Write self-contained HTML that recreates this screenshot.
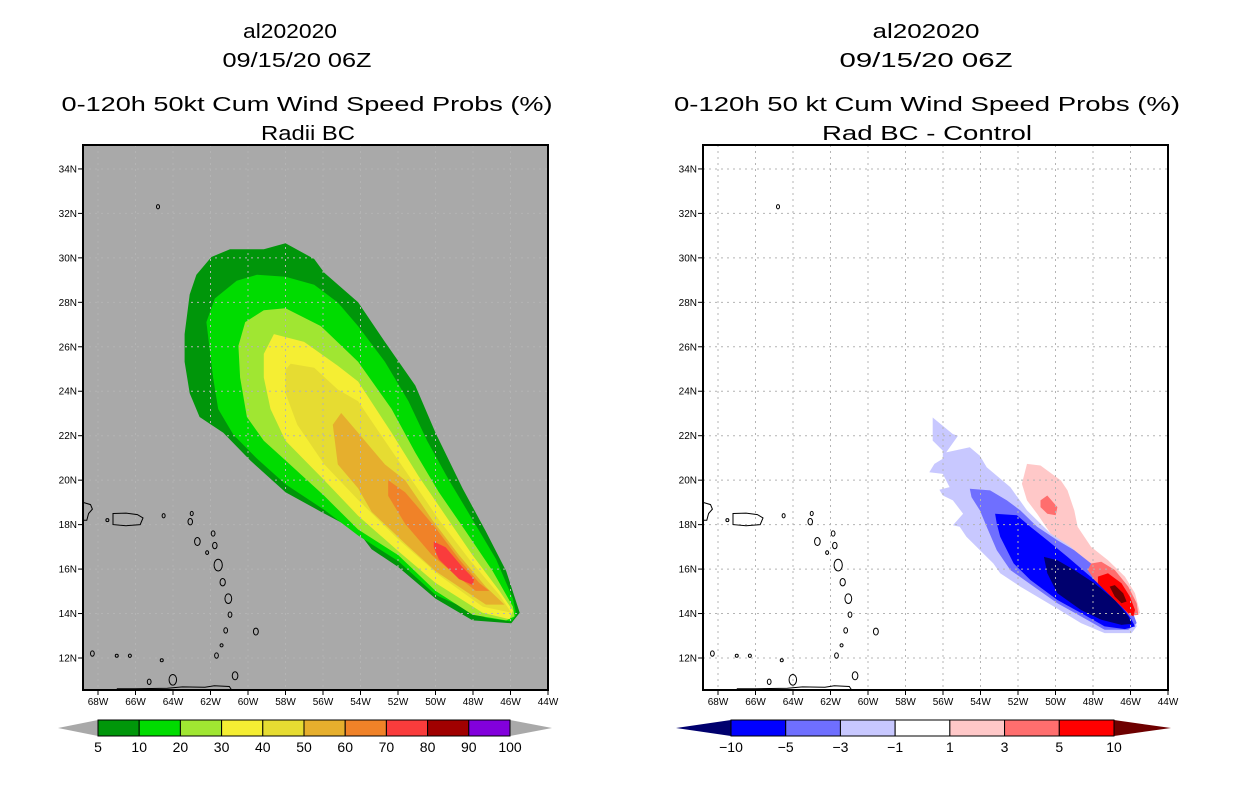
<!DOCTYPE html>
<html><head><meta charset="utf-8"><style>
body{margin:0;background:#fff}
svg{display:block}
text{font-family:"Liberation Sans",sans-serif;fill:#000}
</style></head><body>
<svg id="c" width="1236" height="800" viewBox="0 0 1236 800"></svg>
<script>
// ---- DATA (lon in degrees W, lat in degrees N) ----
const probLevels = [5,10,20,30,40,50,60,70,80,90,100];
const probColors = ["#00960a","#00dc00","#a0e632","#f5ee33","#e6dc32","#e6af2d","#f08228","#fa3c3c","#a00000","#8200dc"];
const prob5 = [[58.0,30.66],[56.47,29.95],[55.93,29.33],[54.13,28.0],[52.70,26.22],[51.08,24.26],[50.0,22.13],[48.56,19.64],[47.31,17.69],[46.23,15.91],[45.51,14.04],[45.96,13.56],[48.02,13.69],[50.0,14.67],[51.98,16.09],[53.41,16.89],[54.13,17.69],[56.11,18.58],[58.0,19.46],[59.88,20.89],[61.32,22.13],[62.58,22.84],[63.11,23.91],[63.38,25.33],[63.38,26.57],[63.11,28.35],[62.75,29.24],[61.95,30.04],[60.96,30.39],[59.16,30.39]];
const prob10 = [[58.0,29.15],[56.47,28.79],[55.21,27.99],[54.13,26.93],[52.70,25.33],[51.44,23.55],[50.45,21.77],[49.28,20.0],[48.02,18.22],[46.77,16.44],[45.87,14.67],[45.69,13.95],[45.96,13.64],[47.31,13.81],[50.0,14.84],[51.98,16.35],[54.13,17.51],[55.93,18.66],[58.0,19.82],[59.52,20.97],[60.78,22.04],[61.59,23.20],[61.86,24.62],[62.22,27.11],[61.77,28.17],[60.60,28.97],[59.52,29.24]];
const prob20 = [[58.0,27.73],[56.11,26.93],[54.13,25.33],[52.34,23.20],[51.08,21.24],[49.82,19.46],[48.38,17.69],[46.95,15.91],[45.87,14.31],[45.78,13.87],[46.23,13.69],[48.02,13.95],[50.0,15.02],[51.98,16.62],[54.13,17.78],[55.93,19.29],[58.0,20.89],[59.16,21.77],[60.06,22.84],[60.42,24.62],[60.51,26.04],[60.15,27.11],[59.16,27.64]];
const prob30 = [[58.62,26.57],[57.01,26.22],[55.21,25.15],[54.13,24.44],[52.34,22.13],[50.90,20.18],[49.46,18.40],[48.02,16.62],[46.59,15.02],[45.87,14.13],[46.05,13.74],[47.49,14.04],[50.0,15.38],[51.98,16.80],[54.13,18.40],[55.93,20.0],[58.0,21.77],[58.80,23.20],[59.16,24.62],[59.16,25.68]];
const prob40 = [[57.73,25.24],[56.47,25.06],[55.21,24.08],[54.13,23.55],[52.70,21.77],[51.26,20.0],[49.82,18.22],[48.2,16.44],[46.59,14.84],[45.96,14.04],[47.49,14.31],[49.82,15.73],[51.98,17.33],[54.13,19.11],[55.93,20.71],[57.37,22.49],[58.0,23.91],[58.0,24.97]];
const prob50 = [[55.03,23.02],[54.13,22.13],[52.70,20.71],[51.62,20.0],[50.18,18.22],[48.74,16.62],[47.31,15.20],[46.32,14.40],[47.31,14.40],[48.74,15.20],[50.0,15.91],[51.62,17.15],[53.41,18.58],[54.13,19.64],[55.21,20.71],[55.48,22.49]];
const prob60 = [[52.52,20.0],[51.62,19.46],[50.0,17.86],[48.74,16.44],[47.67,15.38],[47.13,15.02],[47.85,15.02],[48.92,15.73],[50.18,16.62],[51.62,18.04],[52.52,19.29]];
const prob70 = [[50.09,17.24],[49.46,16.98],[48.56,16.09],[47.94,15.55],[48.02,15.29],[48.74,15.55],[49.82,16.44],[50.09,16.98]];

const diffLevels = [-10,-5,-3,-1,1,3,5,10];
const diffColors = ["#00006e","#0000ff","#6f6fff","#c8c8ff","#ffffff","#ffc8c8","#ff6e6e","#ff0000","#6e0000"];
const diffPos1 = [[51.52,20.73],[50.80,20.66],[49.72,19.99],[49.36,19.54],[49.0,18.64],[48.82,17.90],[48.10,17.0],[47.20,16.40],[46.30,15.66],[45.76,14.91],[45.49,14.01],[45.94,13.94],[46.48,14.31],[47.20,14.61],[47.92,15.21],[48.46,15.81],[49.0,16.55],[49.72,17.0],[50.26,17.60],[50.98,18.49],[51.52,19.09],[51.79,19.84]];
const diffPos3a = [[50.80,19.09],[50.44,19.31],[49.90,18.79],[49.99,18.42],[50.44,18.49],[50.80,18.79]];
const diffPos3b = [[48.10,16.25],[47.56,16.33],[46.84,15.96],[46.12,15.21],[45.67,14.46],[45.58,13.94],[46.03,13.90],[46.48,14.31],[47.20,14.91],[47.92,15.51],[48.28,15.96]];
const diffPos5 = [[47.74,15.66],[47.20,15.81],[46.48,15.36],[46.03,14.76],[45.76,14.16],[45.85,13.87],[46.12,14.01],[46.66,14.46],[47.38,15.06],[47.74,15.36]];
const diffPos10 = [[47.11,15.21],[46.84,15.28],[46.39,14.91],[46.21,14.54],[46.48,14.46],[46.84,14.76]];
const diffNeg1 = [[56.55,22.82],[55.47,22.07],[55.20,22.0],[55.83,21.25],[54.57,21.48],[54.03,21.10],[53.67,20.58],[52.41,19.69],[51.52,18.64],[50.26,17.60],[49.18,17.0],[48.10,16.10],[47.20,15.51],[46.30,14.61],[45.76,13.72],[45.67,13.42],[45.94,13.12],[47.38,13.12],[48.64,13.57],[50.08,14.31],[51.88,15.21],[52.95,15.81],[53.31,16.25],[53.85,16.70],[54.75,17.45],[55.11,17.90],[55.47,17.97],[54.93,18.49],[55.47,19.09],[56.01,19.31],[56.19,19.57],[55.65,19.69],[56.01,20.28],[56.73,20.36],[56.46,20.73],[56.01,20.96],[56.01,21.33],[56.55,21.78]];
const diffNeg3 = [[54.57,19.61],[53.49,19.54],[52.59,19.09],[51.88,18.64],[50.98,17.90],[49.90,17.30],[49.0,16.85],[48.10,16.25],[47.02,15.51],[46.12,14.61],[45.67,13.57],[46.12,13.27],[47.38,13.27],[48.64,13.87],[49.90,14.46],[51.16,15.21],[52.41,15.96],[53.13,16.85],[53.67,17.90],[54.03,18.64],[54.48,19.24]];
const diffNeg5 = [[53.22,18.49],[52.06,18.42],[51.34,17.90],[50.44,17.30],[49.36,16.55],[47.92,15.51],[46.66,14.61],[45.94,13.72],[45.76,13.42],[46.30,13.30],[47.38,13.42],[48.46,13.94],[49.90,14.61],[51.34,15.51],[52.23,16.25],[52.95,17.45],[53.13,18.04]];
const diffNeg10 = [[50.62,16.55],[49.90,16.40],[49.0,15.96],[47.92,15.36],[46.84,14.61],[46.12,13.87],[45.94,13.54],[46.48,13.49],[47.56,13.72],[48.64,14.16],[49.90,14.91],[50.44,15.81]];

const latTicks = [12,14,16,18,20,22,24,26,28,30,32,34];
const lonTicks = [68,66,64,62,60,58,56,54,52,50,48,46,44];
const puertoRico = [[67.2,18.5],[66.5,18.52],[65.9,18.45],[65.6,18.3],[65.75,18.0],[66.5,17.95],[67.2,18.0]];
const hispaniola = [[68.8,19.0],[68.4,18.9],[68.3,18.7],[68.5,18.5],[68.6,18.2],[68.8,18.2]];
const venezuela = [[67.0,10.62],[66.0,10.62],[64.3,10.64],[63.5,10.7],[62.3,10.68],[61.8,10.75],[61.0,10.72],[60.9,10.6]];
const smallIslands = [[63.08,18.13,0.12],[62.70,17.24,0.15],[61.86,17.60,0.1],[61.77,17.06,0.12],[62.18,16.74,0.07],[61.59,16.18,0.22],[61.35,15.41,0.14],[61.05,14.67,0.18],[60.96,13.95,0.1],[61.19,13.24,0.1],[61.41,12.57,0.06],[61.68,12.11,0.1],[59.58,13.19,0.13],[60.69,11.2,0.15],[64.01,11.02,0.2],[65.27,10.93,0.1],[64.8,32.3,0.08],[64.5,18.4,0.08],[63.0,18.5,0.08],[67.5,18.2,0.05],[68.3,12.2,0.1],[67.0,12.1,0.05],[66.3,12.1,0.06],[64.6,11.9,0.05]];

// ---- drawing ----
const svg = document.getElementById('c');
const NS = 'http://www.w3.org/2000/svg';
function mk(tag, attrs, parent){const e=document.createElementNS(NS,tag);for(const k in attrs)e.setAttribute(k,attrs[k]);(parent||svg).appendChild(e);return e;}
const PX_LON = 18.75, PX_LAT = 22.23, Y12 = 658;
function xScale(x68, lonW){return x68 + (68 - lonW) * PX_LON;}
function yScale(lat){return Y12 - (lat - 12) * PX_LAT;}
function pts(x68, poly){return poly.map(p=>xScale(x68,p[0]).toFixed(1)+','+yScale(p[1]).toFixed(1)).join(' ');}

function panel(x68, bg, fills, name){
  const g = mk('g',{});
  
  
  const left = xScale(x68, 68.8), right = xScale(x68, 44), top = 145, bottom = 690;
  const clipId = 'clip'+x68;
  const cp = mk('clipPath',{id:clipId},g); mk('rect',{x:left,y:top,width:right-left,height:bottom-top},cp);
  const bgr = mk('rect',{x:left,y:top,width:right-left,height:bottom-top,fill:bg},g);
  
  
  const inner = mk('g',{'clip-path':'url(#'+clipId+')'},g);
  fills.forEach(f=>{
    const p = mk('polygon',{points:pts(x68,f.poly),fill:f.color},inner);
    
    
  });
  // grid
  const grid = mk('g',{stroke:'#b4b4b4','stroke-width':1,'stroke-dasharray':'2,4'},inner);
  
  
  lonTicks.forEach(l=>{const x=xScale(x68,l);mk('line',{x1:x,x2:x,y1:top,y2:bottom},grid);});
  latTicks.forEach(l=>{const y=yScale(l);mk('line',{x1:left,x2:right,y1:y,y2:y},grid);});
  // coast
  const coast = mk('g',{fill:'none',stroke:'#000','stroke-width':1},inner);
  
  
  [puertoRico,hispaniola].forEach(p=>mk('polygon',{points:pts(x68,p)},coast));
  mk('polyline',{points:pts(x68,venezuela)},coast);
  smallIslands.forEach(s=>mk('ellipse',{cx:xScale(x68,s[0]),cy:yScale(s[1]),rx:Math.max(1.5,s[2]*PX_LON),ry:Math.max(1.5,s[2]*PX_LAT*1.2)},coast));
  // frame
  const fr = mk('rect',{x:left,y:top,width:right-left,height:bottom-top,fill:'none',stroke:'#000','stroke-width':2},g);
  
  
  // ticks
  latTicks.forEach(l=>{const y=yScale(l);mk('line',{x1:left-5,x2:left,y1:y,y2:y,stroke:'#000'},g);
    const t=mk('text',{x:left-6,y:y+3.5,'font-size':10,'text-anchor':'end'},g);t.textContent=l+'N';
    
    });
  lonTicks.forEach(l=>{const x=xScale(x68,l);mk('line',{x1:x,x2:x,y1:bottom,y2:bottom+5,stroke:'#000'},g);
    const t=mk('text',{x:x,y:bottom+15,'font-size':10,'text-anchor':'middle'},g);t.textContent=l+'W';
    
    });
}

function title(cx, y, str, len, name){
  const t = mk('text',{x:cx,y:y,'font-size':20,'text-anchor':'middle',textLength:len,lengthAdjust:'spacingAndGlyphs'});
  t.textContent = str;
  
  
}
title(290,38,'al202020',94,'storm-id-left');
title(297,67,'09/15/20 06Z',149,'date-left');
title(307,111,'0-120h 50kt Cum Wind Speed Probs (%)',491,'title-left');
title(308,140,'Radii BC',94,'subtitle-left');
title(926,38,'al202020',107,'storm-id-right');
title(926,67,'09/15/20 06Z',173,'date-right');
title(927,111,'0-120h 50 kt Cum Wind Speed Probs (%)',506,'title-right');
title(927,140,'Rad BC - Control',210,'subtitle-right');

const probPolys = [prob5,prob10,prob20,prob30,prob40,prob50,prob60,prob70];
panel(98,'#a9a9a9',probPolys.map((p,i)=>({poly:p,color:probColors[i],name:'prob-contour-'+probLevels[i]})),'left-map');
panel(718,'#ffffff',[
  {poly:diffPos1,color:diffColors[5],name:'diff-pos-1'},
  {poly:diffNeg1,color:diffColors[3],name:'diff-neg-1'},
  {poly:diffNeg3,color:diffColors[2],name:'diff-neg-3'},
  {poly:diffNeg5,color:diffColors[1],name:'diff-neg-5'},
  {poly:diffNeg10,color:diffColors[0],name:'diff-neg-10'},
  {poly:diffPos3a,color:diffColors[6],name:'diff-pos-3a'},
  {poly:diffPos3b,color:diffColors[6],name:'diff-pos-3b'},
  {poly:diffPos5,color:diffColors[7],name:'diff-pos-5'},
  {poly:diffPos10,color:diffColors[8],name:'diff-pos-10'}
],'right-map');

function colorbar(x0, x1, tipL, tipR, colors, labels, leftTri, rightTri, name){
  const g = mk('g',{});
  
  
  const y0=720,y1=736,ym=728,n=colors.length,w=(x1-x0)/n;
  mk('polygon',{points:`${tipL},${ym} ${x0},${y0} ${x0},${y1}`,fill:leftTri},g);
  mk('polygon',{points:`${tipR},${ym} ${x1},${y0} ${x1},${y1}`,fill:rightTri},g);
  colors.forEach((c,i)=>{const r=mk('rect',{x:x0+i*w,y:y0,width:w,height:y1-y0,fill:c,stroke:'#000','stroke-width':1},g);
    
    });
  labels.forEach((l,i)=>{const t=mk('text',{x:x0+i*w,y:752,'font-size':14,'text-anchor':'middle'},g);
    t.textContent=String(l).replace('-','\u2212');
    
    });
}
colorbar(98,510,58,552,probColors,probLevels,'#a9a9a9','#a9a9a9','prob-colorbar');
colorbar(731,1114,676,1171,diffColors.slice(1,8),diffLevels,diffColors[0],diffColors[8],'diff-colorbar');
</script>
</body></html>
